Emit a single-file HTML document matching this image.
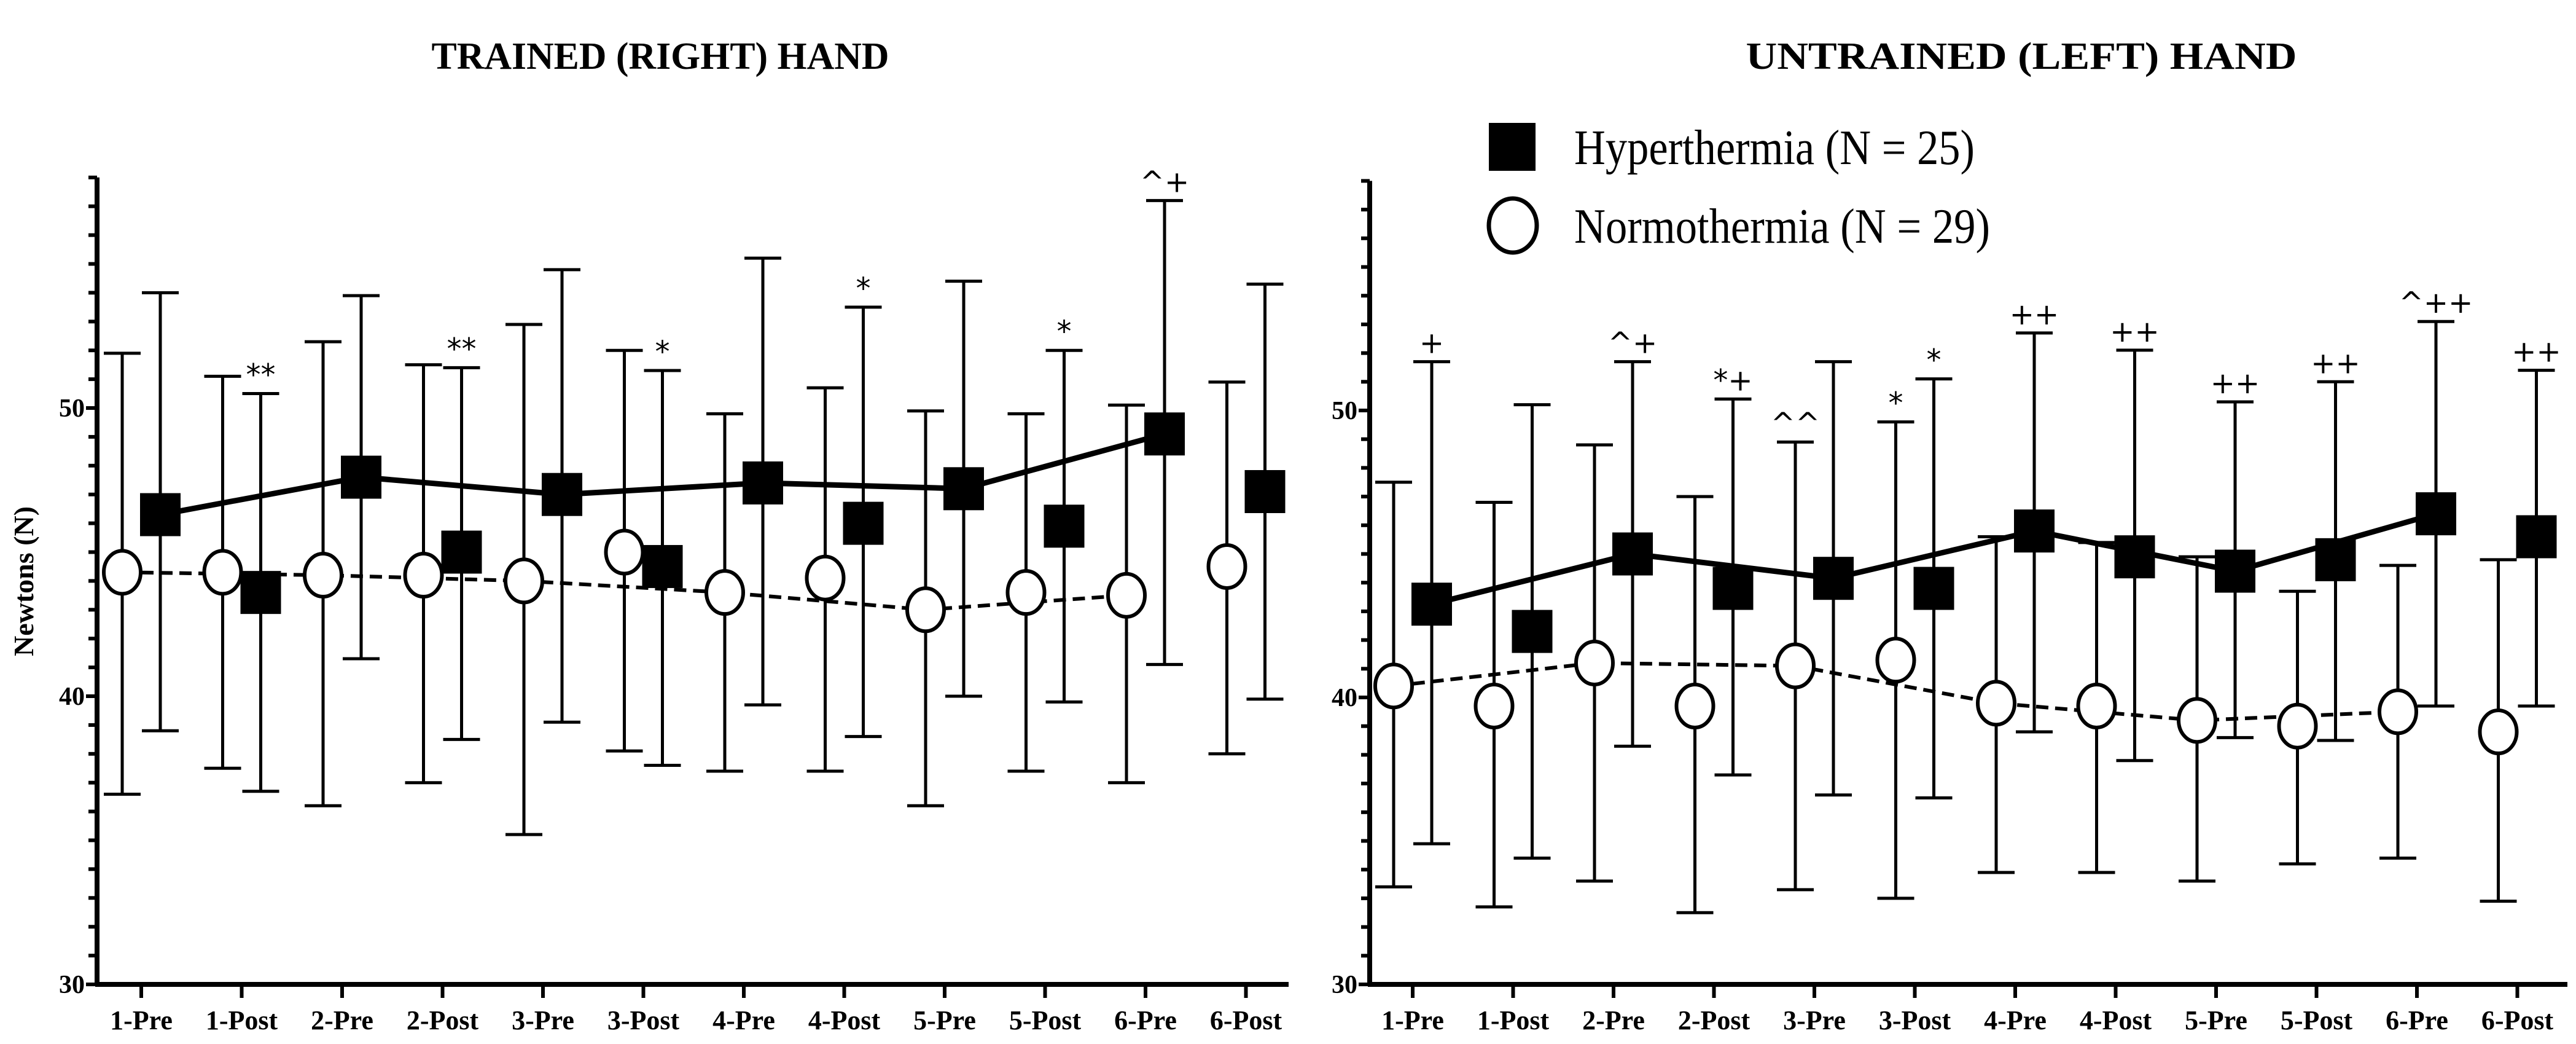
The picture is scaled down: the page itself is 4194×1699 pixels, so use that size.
<!DOCTYPE html>
<html><head><meta charset="utf-8"><style>
html,body{margin:0;padding:0;background:#fff;}
svg{display:block;}
</style></head><body>
<svg id="chart" width="4194" height="1699" viewBox="0 0 4194 1699" xmlns="http://www.w3.org/2000/svg">
<text x="1075" y="112" text-anchor="middle" font-family="Liberation Serif, serif" font-weight="bold" font-size="62" textLength="745" lengthAdjust="spacingAndGlyphs">TRAINED (RIGHT) HAND</text>
<text x="3291" y="112" text-anchor="middle" font-family="Liberation Serif, serif" font-weight="bold" font-size="62" textLength="897" lengthAdjust="spacingAndGlyphs">UNTRAINED (LEFT) HAND</text>
<g>
<rect x="2424" y="200" width="76" height="78" fill="#000"/>
<text x="2563" y="267" font-family="Liberation Serif, serif" font-size="80" textLength="652" lengthAdjust="spacingAndGlyphs">Hyperthermia (N = 25)</text>
<ellipse cx="2463" cy="367" rx="39" ry="44" fill="#fff" stroke="#000" stroke-width="7"/>
<text x="2563" y="395" font-family="Liberation Serif, serif" font-size="80" textLength="677" lengthAdjust="spacingAndGlyphs">Normothermia (N = 29)</text>
</g>
</svg>
<script>
const categories = ["1-Pre","1-Post","2-Pre","2-Post","3-Pre","3-Post","4-Pre","4-Post","5-Pre","5-Post","6-Pre","6-Post"];
const yTicks = [30,40,50];
// Trained (right) hand
const rHyperMean = [46.3,43.6,47.6,45.0,47.0,44.5,47.4,46.0,47.2,45.9,49.1,47.1];
const rHyperUp   = [54.0,50.5,53.9,51.4,54.8,51.3,55.2,53.5,54.4,52.0,57.2,54.3];
const rHyperLo   = [38.8,36.7,41.3,38.5,39.1,37.6,39.7,38.6,40.0,39.8,41.1,39.9];
const rNormoMean = [44.3,44.3,44.2,44.2,44.0,45.0,43.6,44.1,43.0,43.6,43.5,44.5];
const rNormoUp   = [51.9,51.1,52.3,51.5,52.9,52.0,49.8,50.7,49.9,49.8,50.1,50.9];
const rNormoLo   = [36.6,37.5,36.2,37.0,35.2,38.1,37.4,37.4,36.2,37.4,37.0,38.0];
const rHyperAnn  = ["","**","","**","","*","","*","","*","^+",""];
const rNormoAnn  = ["","","","","","","","","","","",""];
// Untrained (left) hand
const lHyperMean = [43.25,42.3,45.0,43.8,44.15,43.8,45.8,44.9,44.4,44.8,46.4,45.6];
const lHyperUp   = [51.7,50.2,51.7,50.4,51.7,51.1,52.7,52.1,50.3,51.0,53.1,51.4];
const lHyperLo   = [34.9,34.4,38.3,37.3,36.6,36.5,38.8,37.8,38.6,38.5,39.7,39.7];
const lNormoMean = [40.4,39.7,41.2,39.7,41.1,41.3,39.8,39.7,39.2,39.0,39.5,38.8];
const lNormoUp   = [47.5,46.8,48.8,47.0,48.9,49.6,45.6,45.4,44.9,43.7,44.6,44.8];
const lNormoLo   = [33.4,32.7,33.6,32.5,33.3,33.0,33.9,33.9,33.6,34.2,34.4,32.9];
const lHyperAnn  = ["+","","^+","*+","","*","++","++","++","++","^++","++"];
const lNormoAnn  = ["","","","","^^","*","","","","","",""];

const NS="http://www.w3.org/2000/svg";
const svg=document.getElementById('chart');
function mk(tag,attrs,parent){const e=document.createElementNS(NS,tag);for(const k in attrs)e.setAttribute(k,attrs[k]);(parent||svg).appendChild(e);return e;}

function panel(p){
  const g=mk('g',{});
  
  
  const yS=v=>p.y30-(v-30)*(p.y30-p.y50)/20;
  const xS=i=>p.x0+i*p.dx;
  const ya=mk('line',{x1:p.ax,y1:yS(58),x2:p.ax,y2:p.y30+3,stroke:'#000','stroke-width':8},g);
  
  
  const xa=mk('line',{x1:p.ax-3,y1:p.y30,x2:p.xend,y2:p.y30,stroke:'#000','stroke-width':8},g);
  
  
  for(let v=30;v<=58;v++){
    const major=yTicks.includes(v);
    mk('line',{x1:p.ax-(major?18:14),y1:yS(v),x2:p.ax,y2:yS(v),stroke:'#000','stroke-width':6},g);
  }
  yTicks.forEach(v=>{
    const t=mk('text',{x:p.ax-20,y:yS(v)+14,'text-anchor':'end','font-family':'Liberation Serif, serif','font-weight':'bold','font-size':42},g);
    t.textContent=v;
    
    
  });
  categories.forEach((c,i)=>{
    mk('line',{x1:xS(i),y1:p.y30,x2:xS(i),y2:p.y30+22,stroke:'#000','stroke-width':6},g);
    const t=mk('text',{x:xS(i),y:1675,'text-anchor':'middle','font-family':'Liberation Serif, serif','font-weight':'bold','font-size':44},g);
    t.textContent=c;
    
    
  });
  if(p.ylabel){
    const t=mk('text',{x:0,y:0,transform:`translate(54,946) rotate(-90)`,'text-anchor':'middle','font-family':'Liberation Serif, serif','font-weight':'bold','font-size':46},g);
    t.textContent='Newtons (N)';
    
    
  }
  const off=31;
  let ph='',pn='';
  for(let i=0;i<12;i+=2){
    ph+=(i?'L':'M')+(xS(i)+off)+','+yS(p.hM[i]);
    pn+=(i?'L':'M')+(xS(i)-off)+','+yS(p.nM[i]);
  }
  const ln=mk('path',{d:pn,fill:'none',stroke:'#000','stroke-width':6,'stroke-dasharray':'20,11'},g);
  
  
  const lh=mk('path',{d:ph,fill:'none',stroke:'#000','stroke-width':9},g);
  
  
  function ebar(x,up,lo,name){
    const e=mk('path',{d:`M${x},${yS(up)}V${yS(lo)}M${x-30},${yS(up)}H${x+30}M${x-30},${yS(lo)}H${x+30}`,stroke:'#000','stroke-width':5,fill:'none'},g);
    
    
  }
  function ann(x,v,txt){
    if(!txt)return;
    const t=mk('text',{x:x,y:yS(v)-14,'text-anchor':'middle','font-family':'DejaVu Sans, sans-serif','font-size':48},g);
    t.textContent=txt;
    
    
  }
  for(let i=0;i<12;i++){
    const xn=xS(i)-off, xh=xS(i)+off;
    ebar(xn,p.nU[i],p.nL[i],'normothermia-error-bar');
    ebar(xh,p.hU[i],p.hL[i],'hyperthermia-error-bar');
    const c=mk('ellipse',{cx:xn,cy:yS(p.nM[i]),rx:30,ry:35,fill:'#fff',stroke:'#000','stroke-width':6},g);
    
    
    const r=mk('rect',{x:xh-33,y:yS(p.hM[i])-35,width:66,height:70,fill:'#000'},g);
    
    
    ann(xn,p.nU[i],p.nA[i]);
    ann(xh,p.hU[i],p.hA[i]);
  }
}
panel({name:'trained-hand-panel',ax:158,xend:2098,x0:230,dx:163.5,y30:1602,y50:664,ylabel:true,
  hM:rHyperMean,hU:rHyperUp,hL:rHyperLo,nM:rNormoMean,nU:rNormoUp,nL:rNormoLo,hA:rHyperAnn,nA:rNormoAnn});
panel({name:'untrained-hand-panel',ax:2230,xend:4180,x0:2300,dx:163.5,y30:1602,y50:668,ylabel:false,
  hM:lHyperMean,hU:lHyperUp,hL:lHyperLo,nM:lNormoMean,nU:lNormoUp,nL:lNormoLo,hA:lHyperAnn,nA:lNormoAnn});
</script>
</body></html>
